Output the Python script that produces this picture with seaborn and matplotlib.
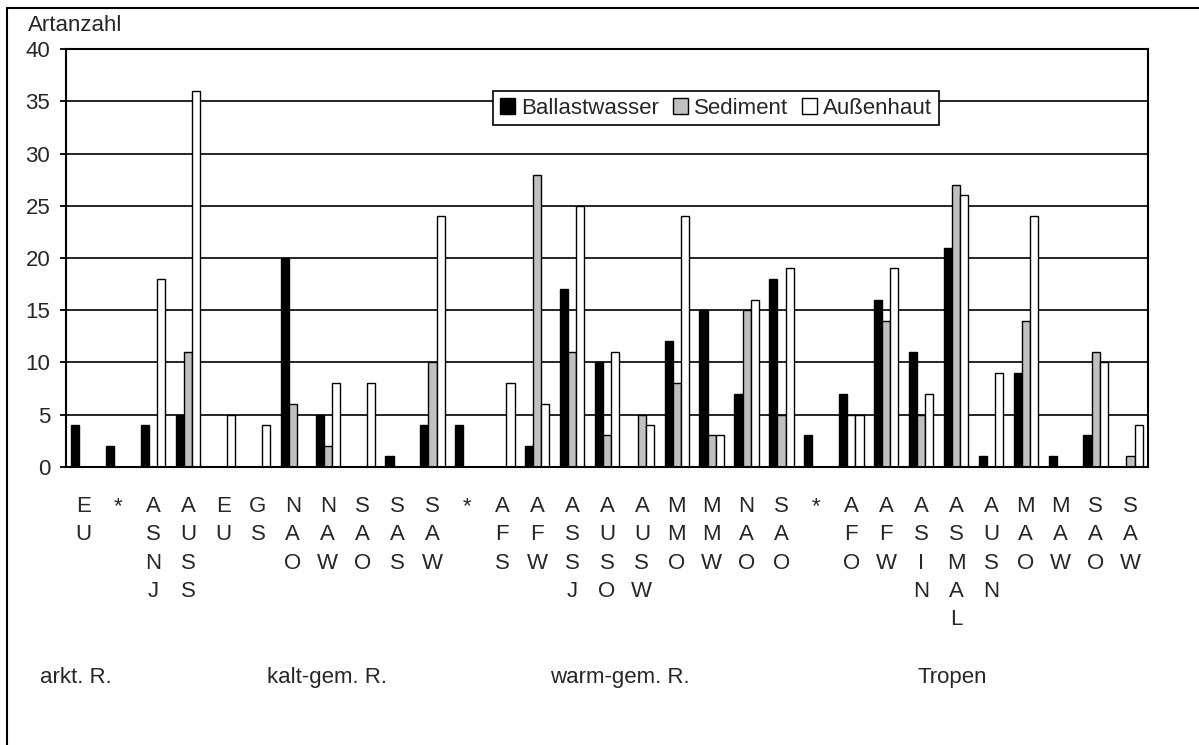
import numpy as np
import pandas as pd
import matplotlib
matplotlib.use("Agg")
import matplotlib.pyplot as plt
import seaborn as sns
from matplotlib.patches import Patch, Rectangle

# ---------------- data ----------------
tick_labels = ["E\nU", "*", "A\nS\nN\nJ", "A\nU\nS\nS", "E\nU", "G\nS", "N\nA\nO",
               "N\nA\nW", "S\nA\nO", "S\nA\nS", "S\nA\nW", "*", "A\nF\nS", "A\nF\nW",
               "A\nS\nS\nJ", "A\nU\nS\nO", "A\nU\nS\nW", "M\nM\nO", "M\nM\nW", "N\nA\nO",
               "S\nA\nO", "*", "A\nF\nO", "A\nF\nW", "A\nS\nI\nN", "A\nS\nM\nA\nL",
               "A\nU\nS\nN", "M\nA\nO", "M\nA\nW", "S\nA\nO", "S\nA\nW"]
series_names = ["Ballastwasser", "Sediment", "Außenhaut"]
ballast = [4, 2, 4, 5, 0, 0, 20, 5, 0, 1, 4, 4, 0, 2, 17, 10, 0, 12, 15, 7, 18, 3, 7, 16, 11, 21, 1, 9, 1, 3, 0]
sediment = [0, 0, 0, 11, 0, 0, 6, 2, 0, 0, 10, 0, 0, 28, 11, 3, 5, 8, 3, 15, 5, 0, 5, 14, 5, 27, 0, 14, 0, 11, 1]
aussenhaut = [0, 0, 18, 36, 5, 4, 0, 8, 8, 0, 24, 0, 8, 6, 25, 11, 4, 24, 3, 16, 19, 0, 5, 19, 7, 26, 9, 24, 0, 10, 4]
regions = ["arkt. R.", "kalt-gem. R.", "warm-gem. R.", "Tropen"]
y_ticks = [0, 5, 10, 15, 20, 25, 30, 35, 40]
colors = ["#000000", "#c0c0c0", "#ffffff"]

# ---------------- figure ----------------
sns.set_style("white")
plt.rcParams["font.family"] = ["Liberation Sans", "DejaVu Sans"]
FS = 16
plt.rcParams["font.size"] = FS

W, H = 1199, 745
fig = plt.figure(figsize=(W / 100, H / 100), dpi=100)
ax = fig.add_axes([66 / W, 1 - 466.7 / H, (1148 - 66) / W, (466.7 - 49.3) / H])

n = len(tick_labels)
df = pd.DataFrame({
    "pos": np.tile(np.arange(n), 3),
    "series": np.repeat(series_names, n),
    "value": ballast + sediment + aussenhaut,
})
sns.barplot(data=df, x="pos", y="value", hue="series", hue_order=series_names,
            palette=colors, width=0.7, edgecolor="black", linewidth=1.0,
            saturation=1, errorbar=None, legend=False, ax=ax)
# the sediment bar of the tropical "AFO" group appears unfilled in the original
ax.containers[1][22].set_facecolor("white")

ax.set_xlim(-0.5, n - 0.5)
ax.set_ylim(0, 40)
ax.set_yticks(y_ticks)
ax.yaxis.grid(True, color="black", linewidth=1.2)
ax.xaxis.grid(False)
ax.set_axisbelow(True)

for s in ax.spines.values():
    s.set_color("black")
    s.set_linewidth(1.5)

ax.set_xticks(np.arange(n))
ax.set_xticklabels(tick_labels, linespacing=1.46)
ax.set_xticks(np.arange(-0.5, n), minor=True)
ax.tick_params(axis="x", which="major", length=0, pad=21, labelsize=FS)
ax.tick_params(axis="x", which="minor", direction="inout", length=10, width=1.3, color="black")
ax.tick_params(axis="y", which="major", direction="out", length=4.3, width=1.3,
               color="black", pad=7.0, labelsize=FS, left=True)
ax.set_xlabel("")
ax.set_ylabel("Artanzahl", rotation=0, ha="left", va="center", fontsize=FS)
ax.yaxis.set_label_coords(-0.0348, 1.0563)

handles = [Patch(facecolor=c, edgecolor="black", linewidth=1.0) for c in colors]
leg = ax.legend(handles, series_names, loc="upper left", bbox_to_anchor=(0.3949, 0.9001),
                ncol=3, frameon=True, fancybox=False, framealpha=1, edgecolor="black",
                handlelength=0.68, handleheight=0.68, handletextpad=0.27,
                columnspacing=0.62, borderpad=0.3, borderaxespad=0, fontsize=FS)
leg.get_frame().set_linewidth(1.2)

region_x = [40, 266.7, 550, 918]
for txt, xp in zip(regions, region_x):
    fig.text(xp / W, 1 - 677.5 / H, txt, ha="left", va="center", fontsize=FS)

fig.add_artist(Rectangle((6.7 / W, -0.05), 1.2, 1 - 7.5 / H + 0.05,
                         transform=fig.transFigure, fill=False,
                         edgecolor="black", linewidth=1.5))

fig.savefig("out.png", dpi=100)
